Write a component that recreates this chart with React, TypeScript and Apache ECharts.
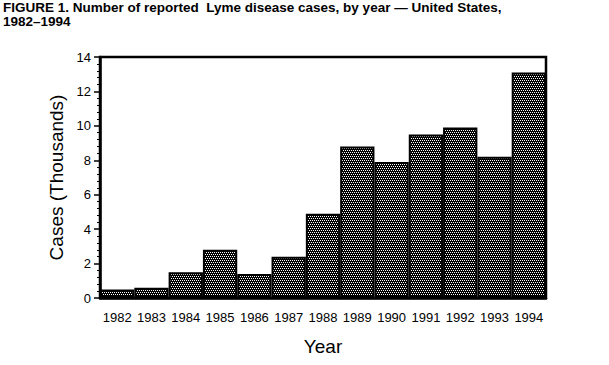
import React, { useEffect, useRef } from "react";
import * as echarts from "echarts";

const years = ["1982", "1983", "1984", "1985", "1986", "1987", "1988", "1989", "1990", "1991", "1992", "1993", "1994"];
const casesThousands = [0.49, 0.6, 1.5, 2.8, 1.4, 2.4, 4.9, 8.8, 7.9, 9.5, 9.9, 8.2, 13.1];
const titleText = "FIGURE 1. Number of reported  Lyme disease cases, by year \u2014 United States,\n1982\u20131994";

function makePattern(): HTMLCanvasElement {
  const c = document.createElement("canvas");
  c.width = 4;
  c.height = 4;
  const ctx = c.getContext("2d")!;
  ctx.fillStyle = "#000";
  ctx.fillRect(0, 0, 4, 4);
  ctx.fillStyle = "#fff";
  ctx.fillRect(0, 0, 1, 1);
  ctx.fillRect(2, 0, 1, 1);
  ctx.fillRect(1, 2, 1, 1);
  ctx.fillRect(3, 2, 1, 1);
  return c;
}

export default function App() {
  const ref = useRef<HTMLDivElement>(null);
  useEffect(() => {
    const chart = echarts.init(ref.current!, null, { renderer: "svg" });
    const font = "'Liberation Sans', Arial, sans-serif";
    chart.setOption({
      animation: false,
      backgroundColor: "#fff",
      title: {
        text: titleText,
        left: 3,
        top: 0,
        padding: 0,
        textStyle: { fontFamily: font, fontSize: 13.5, fontWeight: "bold", color: "#000", lineHeight: 14 },
      },
      grid: {
        left: 100,
        right: 63,
        top: 57,
        bottom: 67,
        show: true,
        borderColor: "#000",
        borderWidth: 2.5,
        outerBoundsMode: "none",
        containLabel: false,
      },
      xAxis: {
        type: "category",
        data: years,
        name: "Year",
        nameLocation: "middle",
        nameGap: 39,
        nameTextStyle: { fontFamily: font, fontSize: 19, color: "#000" },
        axisLine: { lineStyle: { color: "#000", width: 2.5 } },
        axisTick: { alignWithLabel: true, length: 7, lineStyle: { color: "#000", width: 1.5 } },
        axisLabel: { fontFamily: font, fontSize: 13, color: "#000", margin: 13, interval: 0 },
      },
      yAxis: {
        type: "value",
        min: 0,
        max: 14,
        interval: 2,
        name: "Cases (Thousands)",
        nameLocation: "middle",
        nameGap: 32,
        nameTextStyle: { fontFamily: font, fontSize: 19, color: "#000" },
        axisLine: { show: true, lineStyle: { color: "#000", width: 2.5 } },
        axisTick: { show: true, length: 6, lineStyle: { color: "#000", width: 1.5 } },
        minorTick: { show: true, splitNumber: 5, length: 3, lineStyle: { color: "#000", width: 1 } },
        splitLine: { show: false },
        axisLabel: { fontFamily: font, fontSize: 13, color: "#000", margin: 9 },
      },
      series: [
        {
          type: "bar",
          data: casesThousands,
          barCategoryGap: "0%",
          itemStyle: {
            color: { image: makePattern(), repeat: "repeat" },
            borderColor: "#000",
            borderWidth: 2,
          },
        },
      ],
    });
    return () => chart.dispose();
  }, []);
  return <div ref={ref} style={{ width: 609, height: 365, position: "absolute", left: 0, top: 0 }} />;
}
